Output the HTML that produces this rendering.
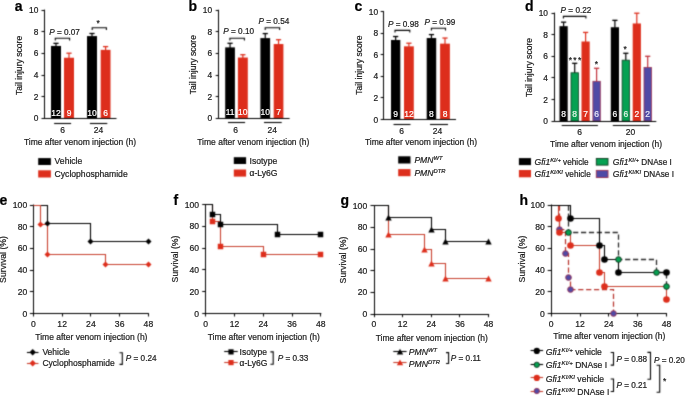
<!DOCTYPE html><html><head><meta charset="utf-8"><style>html,body{margin:0;padding:0;background:#fff;}svg{display:block;}text{font-family:"Liberation Sans",sans-serif;}</style></head><body><svg width="685" height="395" viewBox="0 0 685 395" font-family="Liberation Sans">
<rect width="685" height="395" fill="#fff"/>
<defs><filter id="bl" filterUnits="userSpaceOnUse" x="0" y="0" width="685" height="395" color-interpolation-filters="sRGB"><feConvolveMatrix order="3" kernelMatrix="1 4 1 4 16 4 1 4 1" divisor="36" edgeMode="duplicate"/></filter><filter id="idf" filterUnits="userSpaceOnUse" x="0" y="0" width="685" height="395" color-interpolation-filters="sRGB"><feOffset dx="0" dy="0"/></filter></defs>
<g filter="url(#bl)">
<line x1="56.00" y1="43.35" x2="56.00" y2="46.45" stroke="#000" stroke-width="1.2" />
<line x1="53.40" y1="43.35" x2="58.60" y2="43.35" stroke="#000" stroke-width="1.3" />
<rect x="51.00" y="45.95" width="10.00" height="72.45" fill="#000"/>
<line x1="69.00" y1="53.20" x2="69.00" y2="58.25" stroke="#dd2e1c" stroke-width="1.2" />
<line x1="66.40" y1="53.20" x2="71.60" y2="53.20" stroke="#dd2e1c" stroke-width="1.3" />
<rect x="64.00" y="57.75" width="10.00" height="60.65" fill="#dd2e1c"/>
<line x1="92.00" y1="33.49" x2="92.00" y2="36.59" stroke="#000" stroke-width="1.2" />
<line x1="89.40" y1="33.49" x2="94.60" y2="33.49" stroke="#000" stroke-width="1.3" />
<rect x="87.00" y="36.09" width="10.00" height="82.31" fill="#000"/>
<line x1="105.60" y1="46.60" x2="105.60" y2="50.35" stroke="#dd2e1c" stroke-width="1.2" />
<line x1="103.00" y1="46.60" x2="108.20" y2="46.60" stroke="#dd2e1c" stroke-width="1.3" />
<rect x="100.70" y="49.85" width="9.80" height="68.55" fill="#dd2e1c"/>
<line x1="44.50" y1="9.60" x2="44.50" y2="118.90" stroke="#000" stroke-width="1.0" />
<line x1="44.50" y1="118.50" x2="116.50" y2="118.50" stroke="#000" stroke-width="1.0" />
<line x1="41.50" y1="118.50" x2="44.50" y2="118.50" stroke="#000" stroke-width="1.0" />
<line x1="41.50" y1="96.50" x2="44.50" y2="96.50" stroke="#000" stroke-width="1.0" />
<line x1="41.50" y1="75.50" x2="44.50" y2="75.50" stroke="#000" stroke-width="1.0" />
<line x1="41.50" y1="53.50" x2="44.50" y2="53.50" stroke="#000" stroke-width="1.0" />
<line x1="41.50" y1="31.50" x2="44.50" y2="31.50" stroke="#000" stroke-width="1.0" />
<line x1="41.50" y1="10.50" x2="44.50" y2="10.50" stroke="#000" stroke-width="1.0" />
<path d="M55.30,40.50 V38.30 H69.60 V40.50" fill="none" stroke="#000" stroke-width="1.1"/>
<path d="M92.20,29.90 V27.70 H106.40 V29.90" fill="none" stroke="#000" stroke-width="1.1"/>
<line x1="54.10" y1="123.50" x2="71.10" y2="123.50" stroke="#000" stroke-width="1.1" />
<line x1="89.90" y1="123.50" x2="107.30" y2="123.50" stroke="#000" stroke-width="1.1" />
<rect x="38.20" y="158.10" width="12.70" height="6.90" fill="#000"/>
<rect x="38.20" y="170.30" width="12.70" height="7.20" fill="#dd2e1c"/>
<line x1="230.05" y1="43.28" x2="230.05" y2="47.88" stroke="#000" stroke-width="1.2" />
<line x1="227.45" y1="43.28" x2="232.65" y2="43.28" stroke="#000" stroke-width="1.3" />
<rect x="225.20" y="47.38" width="9.70" height="70.82" fill="#000"/>
<line x1="242.85" y1="54.73" x2="242.85" y2="58.03" stroke="#dd2e1c" stroke-width="1.2" />
<line x1="240.25" y1="54.73" x2="245.45" y2="54.73" stroke="#dd2e1c" stroke-width="1.3" />
<rect x="237.90" y="57.53" width="9.90" height="60.67" fill="#dd2e1c"/>
<line x1="265.25" y1="33.57" x2="265.25" y2="38.60" stroke="#000" stroke-width="1.2" />
<line x1="262.65" y1="33.57" x2="267.85" y2="33.57" stroke="#000" stroke-width="1.3" />
<rect x="260.40" y="38.10" width="9.70" height="80.10" fill="#000"/>
<line x1="278.55" y1="39.72" x2="278.55" y2="44.54" stroke="#dd2e1c" stroke-width="1.2" />
<line x1="275.95" y1="39.72" x2="281.15" y2="39.72" stroke="#dd2e1c" stroke-width="1.3" />
<rect x="273.70" y="44.04" width="9.70" height="74.16" fill="#dd2e1c"/>
<line x1="218.50" y1="9.75" x2="218.50" y2="118.70" stroke="#000" stroke-width="1.0" />
<line x1="218.70" y1="118.50" x2="289.60" y2="118.50" stroke="#000" stroke-width="1.0" />
<line x1="215.70" y1="118.50" x2="218.70" y2="118.50" stroke="#000" stroke-width="1.0" />
<line x1="215.70" y1="96.50" x2="218.70" y2="96.50" stroke="#000" stroke-width="1.0" />
<line x1="215.70" y1="75.50" x2="218.70" y2="75.50" stroke="#000" stroke-width="1.0" />
<line x1="215.70" y1="53.50" x2="218.70" y2="53.50" stroke="#000" stroke-width="1.0" />
<line x1="215.70" y1="31.50" x2="218.70" y2="31.50" stroke="#000" stroke-width="1.0" />
<line x1="215.70" y1="10.50" x2="218.70" y2="10.50" stroke="#000" stroke-width="1.0" />
<path d="M229.90,40.50 V38.30 H244.40 V40.50" fill="none" stroke="#000" stroke-width="1.1"/>
<path d="M265.20,30.00 V27.80 H279.60 V30.00" fill="none" stroke="#000" stroke-width="1.1"/>
<line x1="228.00" y1="122.50" x2="245.10" y2="122.50" stroke="#000" stroke-width="1.1" />
<line x1="264.00" y1="122.50" x2="281.70" y2="122.50" stroke="#000" stroke-width="1.1" />
<rect x="233.80" y="157.20" width="12.30" height="6.80" fill="#000"/>
<rect x="233.80" y="169.50" width="12.30" height="7.10" fill="#dd2e1c"/>
<line x1="395.65" y1="36.52" x2="395.65" y2="40.48" stroke="#000" stroke-width="1.2" />
<line x1="393.05" y1="36.52" x2="398.25" y2="36.52" stroke="#000" stroke-width="1.3" />
<rect x="391.00" y="39.98" width="9.30" height="79.52" fill="#000"/>
<line x1="408.90" y1="43.21" x2="408.90" y2="46.84" stroke="#dd2e1c" stroke-width="1.2" />
<line x1="406.30" y1="43.21" x2="411.50" y2="43.21" stroke="#dd2e1c" stroke-width="1.3" />
<rect x="404.00" y="46.34" width="9.80" height="73.16" fill="#dd2e1c"/>
<line x1="431.45" y1="34.58" x2="431.45" y2="38.54" stroke="#000" stroke-width="1.2" />
<line x1="428.85" y1="34.58" x2="434.05" y2="34.58" stroke="#000" stroke-width="1.3" />
<rect x="426.70" y="38.04" width="9.50" height="81.46" fill="#000"/>
<line x1="445.00" y1="38.04" x2="445.00" y2="44.15" stroke="#dd2e1c" stroke-width="1.2" />
<line x1="442.40" y1="38.04" x2="447.60" y2="38.04" stroke="#dd2e1c" stroke-width="1.3" />
<rect x="440.10" y="43.65" width="9.80" height="75.85" fill="#dd2e1c"/>
<line x1="383.50" y1="11.10" x2="383.50" y2="120.00" stroke="#000" stroke-width="1.0" />
<line x1="383.70" y1="119.50" x2="456.00" y2="119.50" stroke="#000" stroke-width="1.0" />
<line x1="380.70" y1="119.50" x2="383.70" y2="119.50" stroke="#000" stroke-width="1.0" />
<line x1="380.70" y1="97.50" x2="383.70" y2="97.50" stroke="#000" stroke-width="1.0" />
<line x1="380.70" y1="76.50" x2="383.70" y2="76.50" stroke="#000" stroke-width="1.0" />
<line x1="380.70" y1="54.50" x2="383.70" y2="54.50" stroke="#000" stroke-width="1.0" />
<line x1="380.70" y1="33.50" x2="383.70" y2="33.50" stroke="#000" stroke-width="1.0" />
<line x1="380.70" y1="11.50" x2="383.70" y2="11.50" stroke="#000" stroke-width="1.0" />
<path d="M395.00,32.60 V30.40 H409.80 V32.60" fill="none" stroke="#000" stroke-width="1.1"/>
<path d="M431.40,30.50 V28.30 H445.50 V30.50" fill="none" stroke="#000" stroke-width="1.1"/>
<line x1="393.50" y1="124.50" x2="410.50" y2="124.50" stroke="#000" stroke-width="1.1" />
<line x1="430.00" y1="124.50" x2="448.00" y2="124.50" stroke="#000" stroke-width="1.1" />
<rect x="398.20" y="156.30" width="12.30" height="7.20" fill="#000"/>
<rect x="398.20" y="169.10" width="12.30" height="7.10" fill="#dd2e1c"/>
<line x1="563.60" y1="22.17" x2="563.60" y2="26.67" stroke="#000" stroke-width="1.2" />
<line x1="561.00" y1="22.17" x2="566.20" y2="22.17" stroke="#000" stroke-width="1.3" />
<rect x="559.50" y="26.17" width="8.20" height="94.93" fill="#000"/>
<line x1="574.70" y1="63.32" x2="574.70" y2="72.89" stroke="#000" stroke-width="1.2" />
<line x1="572.10" y1="63.32" x2="577.30" y2="63.32" stroke="#000" stroke-width="1.3" />
<rect x="571.00" y="72.79" width="7.40" height="48.31" fill="#05a152" stroke="#0a3a1c" stroke-width="0.8"/>
<line x1="585.60" y1="32.43" x2="585.60" y2="42.00" stroke="#dd2e1c" stroke-width="1.2" />
<line x1="583.00" y1="32.43" x2="588.20" y2="32.43" stroke="#dd2e1c" stroke-width="1.3" />
<rect x="581.50" y="41.50" width="8.20" height="79.60" fill="#dd2e1c"/>
<line x1="596.60" y1="68.29" x2="596.60" y2="81.42" stroke="#c0303a" stroke-width="1.2" />
<line x1="594.00" y1="68.29" x2="599.20" y2="68.29" stroke="#c0303a" stroke-width="1.3" />
<rect x="592.90" y="81.32" width="7.40" height="39.78" fill="#4f4aa6" stroke="#9a2f50" stroke-width="0.8"/>
<line x1="614.90" y1="20.34" x2="614.90" y2="27.75" stroke="#000" stroke-width="1.2" />
<line x1="612.30" y1="20.34" x2="617.50" y2="20.34" stroke="#000" stroke-width="1.3" />
<rect x="610.80" y="27.25" width="8.20" height="93.85" fill="#000"/>
<line x1="625.80" y1="53.28" x2="625.80" y2="60.26" stroke="#000" stroke-width="1.2" />
<line x1="623.20" y1="53.28" x2="628.40" y2="53.28" stroke="#000" stroke-width="1.3" />
<rect x="622.10" y="60.16" width="7.40" height="60.94" fill="#05a152" stroke="#0a3a1c" stroke-width="0.8"/>
<line x1="636.80" y1="13.21" x2="636.80" y2="23.97" stroke="#dd2e1c" stroke-width="1.2" />
<line x1="634.20" y1="13.21" x2="639.40" y2="13.21" stroke="#dd2e1c" stroke-width="1.3" />
<rect x="632.70" y="23.47" width="8.20" height="97.63" fill="#dd2e1c"/>
<line x1="647.70" y1="56.30" x2="647.70" y2="67.60" stroke="#c0303a" stroke-width="1.2" />
<line x1="645.10" y1="56.30" x2="650.30" y2="56.30" stroke="#c0303a" stroke-width="1.3" />
<rect x="644.00" y="67.50" width="7.40" height="53.60" fill="#4f4aa6" stroke="#9a2f50" stroke-width="0.8"/>
<line x1="554.50" y1="12.60" x2="554.50" y2="121.60" stroke="#000" stroke-width="1.0" />
<line x1="554.50" y1="121.50" x2="656.30" y2="121.50" stroke="#000" stroke-width="1.0" />
<line x1="551.50" y1="121.50" x2="554.50" y2="121.50" stroke="#000" stroke-width="1.0" />
<line x1="551.50" y1="99.50" x2="554.50" y2="99.50" stroke="#000" stroke-width="1.0" />
<line x1="551.50" y1="77.50" x2="554.50" y2="77.50" stroke="#000" stroke-width="1.0" />
<line x1="551.50" y1="56.50" x2="554.50" y2="56.50" stroke="#000" stroke-width="1.0" />
<line x1="551.50" y1="34.50" x2="554.50" y2="34.50" stroke="#000" stroke-width="1.0" />
<line x1="551.50" y1="13.50" x2="554.50" y2="13.50" stroke="#000" stroke-width="1.0" />
<path d="M563.40,18.60 V16.40 H585.90 V18.60" fill="none" stroke="#000" stroke-width="1.1"/>
<line x1="561.70" y1="125.50" x2="597.90" y2="125.50" stroke="#000" stroke-width="1.1" />
<line x1="612.80" y1="125.50" x2="649.60" y2="125.50" stroke="#000" stroke-width="1.1" />
<rect x="518.90" y="158.10" width="12.10" height="7.00" fill="#000"/>
<rect x="518.90" y="170.00" width="12.10" height="7.30" fill="#dd2e1c"/>
<rect x="596.30" y="158.50" width="11.70" height="6.60" fill="#05a152" stroke="#0a3a1c" stroke-width="0.9"/>
<rect x="596.30" y="170.40" width="11.70" height="7.10" fill="#4f4aa6" stroke="#9a2f50" stroke-width="0.9"/>
<line x1="33.50" y1="204.50" x2="33.50" y2="314.00" stroke="#000" stroke-width="1.0" />
<line x1="32.90" y1="313.50" x2="148.90" y2="313.50" stroke="#000" stroke-width="1.0" />
<line x1="29.90" y1="313.50" x2="33.40" y2="313.50" stroke="#000" stroke-width="1.0" />
<line x1="29.90" y1="291.50" x2="33.40" y2="291.50" stroke="#000" stroke-width="1.0" />
<line x1="29.90" y1="270.50" x2="33.40" y2="270.50" stroke="#000" stroke-width="1.0" />
<line x1="29.90" y1="248.50" x2="33.40" y2="248.50" stroke="#000" stroke-width="1.0" />
<line x1="29.90" y1="226.50" x2="33.40" y2="226.50" stroke="#000" stroke-width="1.0" />
<line x1="29.90" y1="205.50" x2="33.40" y2="205.50" stroke="#000" stroke-width="1.0" />
<line x1="33.50" y1="313.50" x2="33.50" y2="316.50" stroke="#000" stroke-width="1.0" />
<line x1="62.50" y1="313.50" x2="62.50" y2="316.50" stroke="#000" stroke-width="1.0" />
<line x1="90.50" y1="313.50" x2="90.50" y2="316.50" stroke="#000" stroke-width="1.0" />
<line x1="119.50" y1="313.50" x2="119.50" y2="316.50" stroke="#000" stroke-width="1.0" />
<line x1="148.50" y1="313.50" x2="148.50" y2="316.50" stroke="#000" stroke-width="1.0" />
<path d="M33.50,205.50 H47.50 V223.50 H90.50 V241.50 H148.50 V241.50" fill="none" stroke="#000" stroke-width="1.1"/>
<path d="M33.50,205.50 H40.50 V224.50 H47.50 V254.50 H105.50 V264.50 H148.50 V264.50" fill="none" stroke="#c8402f" stroke-width="1.1"/>
<path d="M47.50,220.50 L50.50,223.50 L47.50,226.50 L44.50,223.50 Z" fill="#000"/>
<path d="M90.50,238.50 L93.50,241.50 L90.50,244.50 L87.50,241.50 Z" fill="#000"/>
<path d="M148.50,238.50 L151.50,241.50 L148.50,244.50 L145.50,241.50 Z" fill="#000"/>
<path d="M40.50,221.50 L43.50,224.50 L40.50,227.50 L37.50,224.50 Z" fill="#dd2e1c"/>
<path d="M47.50,251.50 L50.50,254.50 L47.50,257.50 L44.50,254.50 Z" fill="#dd2e1c"/>
<path d="M105.50,261.50 L108.50,264.50 L105.50,267.50 L102.50,264.50 Z" fill="#dd2e1c"/>
<path d="M148.50,261.50 L151.50,264.50 L148.50,267.50 L145.50,264.50 Z" fill="#dd2e1c"/>
<line x1="26.90" y1="352.50" x2="38.50" y2="352.50" stroke="#000" stroke-width="1.1" />
<path d="M32.70,349.00 L35.90,352.20 L32.70,355.40 L29.50,352.20 Z" fill="#000"/>
<line x1="26.90" y1="363.50" x2="38.50" y2="363.50" stroke="#c8402f" stroke-width="1.1" />
<path d="M32.70,360.00 L35.90,363.20 L32.70,366.40 L29.50,363.20 Z" fill="#dd2e1c"/>
<path d="M119.5,352.7 H122.3 V364.4 H119.5" fill="none" stroke="#000" stroke-width="1.1"/>
<line x1="205.50" y1="204.10" x2="205.50" y2="314.00" stroke="#000" stroke-width="1.0" />
<line x1="205.20" y1="313.50" x2="321.30" y2="313.50" stroke="#000" stroke-width="1.0" />
<line x1="202.20" y1="313.50" x2="205.70" y2="313.50" stroke="#000" stroke-width="1.0" />
<line x1="202.20" y1="291.50" x2="205.70" y2="291.50" stroke="#000" stroke-width="1.0" />
<line x1="202.20" y1="269.50" x2="205.70" y2="269.50" stroke="#000" stroke-width="1.0" />
<line x1="202.20" y1="248.50" x2="205.70" y2="248.50" stroke="#000" stroke-width="1.0" />
<line x1="202.20" y1="226.50" x2="205.70" y2="226.50" stroke="#000" stroke-width="1.0" />
<line x1="202.20" y1="204.50" x2="205.70" y2="204.50" stroke="#000" stroke-width="1.0" />
<line x1="205.50" y1="313.50" x2="205.50" y2="316.50" stroke="#000" stroke-width="1.0" />
<line x1="234.50" y1="313.50" x2="234.50" y2="316.50" stroke="#000" stroke-width="1.0" />
<line x1="263.50" y1="313.50" x2="263.50" y2="316.50" stroke="#000" stroke-width="1.0" />
<line x1="292.50" y1="313.50" x2="292.50" y2="316.50" stroke="#000" stroke-width="1.0" />
<line x1="320.50" y1="313.50" x2="320.50" y2="316.50" stroke="#000" stroke-width="1.0" />
<path d="M212.50,204.50 H212.50 V221.50 H220.50 V246.50 H263.50 V254.50 H320.50 V254.50" fill="none" stroke="#c8402f" stroke-width="1.1"/>
<path d="M205.50,204.50 H212.50 V214.50 H220.50 V224.50 H277.50 V234.50 H320.50 V234.50" fill="none" stroke="#000" stroke-width="1.1"/>
<rect x="209.75" y="218.75" width="5.50" height="5.50" fill="#dd2e1c"/>
<rect x="217.75" y="243.75" width="5.50" height="5.50" fill="#dd2e1c"/>
<rect x="260.75" y="251.75" width="5.50" height="5.50" fill="#dd2e1c"/>
<rect x="317.75" y="251.75" width="5.50" height="5.50" fill="#dd2e1c"/>
<rect x="209.75" y="211.75" width="5.50" height="5.50" fill="#000"/>
<rect x="217.75" y="221.75" width="5.50" height="5.50" fill="#000"/>
<rect x="274.75" y="231.75" width="5.50" height="5.50" fill="#000"/>
<rect x="317.75" y="231.75" width="5.50" height="5.50" fill="#000"/>
<line x1="224.20" y1="351.50" x2="237.70" y2="351.50" stroke="#000" stroke-width="1.1" />
<rect x="228.40" y="349.30" width="5.20" height="5.20" fill="#000"/>
<line x1="224.20" y1="362.50" x2="237.70" y2="362.50" stroke="#c8402f" stroke-width="1.1" />
<rect x="228.40" y="360.00" width="5.20" height="5.20" fill="#dd2e1c"/>
<path d="M270.4,351.9 H273.2 V364.2 H270.4" fill="none" stroke="#000" stroke-width="1.1"/>
<line x1="374.50" y1="205.10" x2="374.50" y2="314.70" stroke="#000" stroke-width="1.0" />
<line x1="373.50" y1="314.50" x2="489.10" y2="314.50" stroke="#000" stroke-width="1.0" />
<line x1="370.50" y1="314.50" x2="374.00" y2="314.50" stroke="#000" stroke-width="1.0" />
<line x1="370.50" y1="292.50" x2="374.00" y2="292.50" stroke="#000" stroke-width="1.0" />
<line x1="370.50" y1="270.50" x2="374.00" y2="270.50" stroke="#000" stroke-width="1.0" />
<line x1="370.50" y1="249.50" x2="374.00" y2="249.50" stroke="#000" stroke-width="1.0" />
<line x1="370.50" y1="227.50" x2="374.00" y2="227.50" stroke="#000" stroke-width="1.0" />
<line x1="370.50" y1="205.50" x2="374.00" y2="205.50" stroke="#000" stroke-width="1.0" />
<line x1="374.50" y1="314.20" x2="374.50" y2="317.20" stroke="#000" stroke-width="1.0" />
<line x1="402.50" y1="314.20" x2="402.50" y2="317.20" stroke="#000" stroke-width="1.0" />
<line x1="431.50" y1="314.20" x2="431.50" y2="317.20" stroke="#000" stroke-width="1.0" />
<line x1="459.50" y1="314.20" x2="459.50" y2="317.20" stroke="#000" stroke-width="1.0" />
<line x1="488.50" y1="314.20" x2="488.50" y2="317.20" stroke="#000" stroke-width="1.0" />
<path d="M388.50,205.50 H388.50 V234.50 H424.50 V249.50 H431.50 V263.50 H445.50 V278.50 H488.50 V278.50" fill="none" stroke="#c8402f" stroke-width="1.1"/>
<path d="M374.50,205.50 H388.50 V217.50 H431.50 V229.50 H445.50 V241.50 H488.50 V241.50" fill="none" stroke="#000" stroke-width="1.1"/>
<path d="M388.50,231.62 L391.70,237.38 L385.30,237.38 Z" fill="#dd2e1c"/>
<path d="M424.50,246.62 L427.70,252.38 L421.30,252.38 Z" fill="#dd2e1c"/>
<path d="M431.50,260.62 L434.70,266.38 L428.30,266.38 Z" fill="#dd2e1c"/>
<path d="M445.50,275.62 L448.70,281.38 L442.30,281.38 Z" fill="#dd2e1c"/>
<path d="M488.50,275.62 L491.70,281.38 L485.30,281.38 Z" fill="#dd2e1c"/>
<path d="M388.50,214.62 L391.70,220.38 L385.30,220.38 Z" fill="#000"/>
<path d="M431.50,226.62 L434.70,232.38 L428.30,232.38 Z" fill="#000"/>
<path d="M445.50,238.62 L448.70,244.38 L442.30,244.38 Z" fill="#000"/>
<path d="M488.50,238.62 L491.70,244.38 L485.30,244.38 Z" fill="#000"/>
<line x1="393.30" y1="351.50" x2="406.60" y2="351.50" stroke="#000" stroke-width="1.1" />
<path d="M400.00,348.72 L403.20,354.48 L396.80,354.48 Z" fill="#000"/>
<line x1="393.30" y1="362.50" x2="406.60" y2="362.50" stroke="#c8402f" stroke-width="1.1" />
<path d="M400.00,359.42 L403.20,365.18 L396.80,365.18 Z" fill="#dd2e1c"/>
<path d="M446.0,352.6 H448.6 V363.5 H446.0" fill="none" stroke="#000" stroke-width="1.1"/>
<line x1="551.50" y1="204.50" x2="551.50" y2="314.00" stroke="#000" stroke-width="1.0" />
<line x1="550.70" y1="313.50" x2="667.00" y2="313.50" stroke="#000" stroke-width="1.0" />
<line x1="547.70" y1="313.50" x2="551.20" y2="313.50" stroke="#000" stroke-width="1.0" />
<line x1="547.70" y1="291.50" x2="551.20" y2="291.50" stroke="#000" stroke-width="1.0" />
<line x1="547.70" y1="270.50" x2="551.20" y2="270.50" stroke="#000" stroke-width="1.0" />
<line x1="547.70" y1="248.50" x2="551.20" y2="248.50" stroke="#000" stroke-width="1.0" />
<line x1="547.70" y1="226.50" x2="551.20" y2="226.50" stroke="#000" stroke-width="1.0" />
<line x1="547.70" y1="205.50" x2="551.20" y2="205.50" stroke="#000" stroke-width="1.0" />
<line x1="551.50" y1="313.50" x2="551.50" y2="316.50" stroke="#000" stroke-width="1.0" />
<line x1="580.50" y1="313.50" x2="580.50" y2="316.50" stroke="#000" stroke-width="1.0" />
<line x1="608.50" y1="313.50" x2="608.50" y2="316.50" stroke="#000" stroke-width="1.0" />
<line x1="637.50" y1="313.50" x2="637.50" y2="316.50" stroke="#000" stroke-width="1.0" />
<line x1="666.50" y1="313.50" x2="666.50" y2="316.50" stroke="#000" stroke-width="1.0" />
<path d="M559.50,205.50 H559.50 V229.50 H565.50 V253.50 H568.50 V277.50 H570.50 V289.50 H613.50 V313.50" fill="none" stroke="#b8342e" stroke-width="1.25" stroke-dasharray="5.2,2.7"/>
<path d="M558.50,205.50 H558.50 V218.50 H559.50 V232.50 H570.50 V245.50 H599.50 V272.50 H604.50 V286.50 H666.50 V299.50" fill="none" stroke="#c8402f" stroke-width="1.1"/>
<path d="M568.50,205.50 H568.50 V232.50 H618.50 V259.50 H656.50 V272.50 H666.50 V286.50" fill="none" stroke="#2a2a2a" stroke-width="1.3" stroke-dasharray="5.2,2.7"/>
<path d="M551.50,205.50 H570.50 V218.50 H599.50 V245.50 H604.50 V259.50 H618.50 V272.50 H666.50 V272.50" fill="none" stroke="#000" stroke-width="1.1"/>
<circle cx="559.50" cy="229.50" r="2.85" fill="#4f4aa6" stroke="#9a3050" stroke-width="0.9"/>
<circle cx="565.50" cy="253.50" r="2.85" fill="#4f4aa6" stroke="#9a3050" stroke-width="0.9"/>
<circle cx="568.50" cy="277.50" r="2.85" fill="#4f4aa6" stroke="#9a3050" stroke-width="0.9"/>
<circle cx="570.50" cy="289.50" r="2.85" fill="#4f4aa6" stroke="#9a3050" stroke-width="0.9"/>
<circle cx="613.50" cy="313.50" r="2.85" fill="#4f4aa6" stroke="#9a3050" stroke-width="0.9"/>
<circle cx="558.50" cy="218.50" r="3.30" fill="#dd2e1c"/>
<circle cx="559.50" cy="232.50" r="3.30" fill="#dd2e1c"/>
<circle cx="570.50" cy="245.50" r="3.30" fill="#dd2e1c"/>
<circle cx="599.50" cy="272.50" r="3.30" fill="#dd2e1c"/>
<circle cx="604.50" cy="286.50" r="3.30" fill="#dd2e1c"/>
<circle cx="666.50" cy="299.50" r="3.30" fill="#dd2e1c"/>
<circle cx="568.50" cy="232.50" r="2.85" fill="#05a152" stroke="#0a2a14" stroke-width="0.9"/>
<circle cx="618.50" cy="259.50" r="2.85" fill="#05a152" stroke="#0a2a14" stroke-width="0.9"/>
<circle cx="656.50" cy="272.50" r="2.85" fill="#05a152" stroke="#0a2a14" stroke-width="0.9"/>
<circle cx="666.50" cy="286.50" r="2.85" fill="#05a152" stroke="#0a2a14" stroke-width="0.9"/>
<circle cx="570.50" cy="218.50" r="3.30" fill="#000"/>
<circle cx="599.50" cy="245.50" r="3.30" fill="#000"/>
<circle cx="604.50" cy="259.50" r="3.30" fill="#000"/>
<circle cx="618.50" cy="272.50" r="3.30" fill="#000"/>
<circle cx="666.50" cy="272.50" r="3.30" fill="#000"/>
<line x1="530.60" y1="350.50" x2="543.10" y2="350.50" stroke="#000" stroke-width="1.1" />
<circle cx="536.80" cy="350.90" r="3.10" fill="#000"/>
<line x1="530.60" y1="364.50" x2="543.10" y2="364.50" stroke="#000" stroke-width="1.1" />
<circle cx="536.80" cy="364.80" r="2.65" fill="#05a152" stroke="#0a2a14" stroke-width="0.9"/>
<line x1="530.60" y1="377.50" x2="543.10" y2="377.50" stroke="#c8402f" stroke-width="1.1" />
<circle cx="536.80" cy="377.90" r="3.10" fill="#dd2e1c"/>
<line x1="530.60" y1="391.50" x2="543.10" y2="391.50" stroke="#c8402f" stroke-width="1.1" />
<circle cx="536.80" cy="391.00" r="2.65" fill="#4f4aa6" stroke="#9a3050" stroke-width="0.9"/>
<path d="M610.7,352.5 H613.5 V365.1 H610.7" fill="none" stroke="#000" stroke-width="1.1"/>
<path d="M610.7,379.0 H613.5 V391.5 H610.7" fill="none" stroke="#000" stroke-width="1.1"/>
<path d="M647.4,352.4 H650.5 V379.2 H647.4" fill="none" stroke="#000" stroke-width="1.1"/>
<path d="M656.6,365.3 H659.7 V392.3 H656.6" fill="none" stroke="#000" stroke-width="1.1"/>
</g>
<g filter="url(#idf)">
<text x="14.80" y="10.50" font-size="14" text-anchor="start" fill="#000" font-weight="bold" font-style="normal"  stroke="#000" stroke-width="0.2">a</text>
<text x="0" y="0" font-size="8.6" text-anchor="middle" fill="#1a1a1a" transform="translate(21.90,65.40) rotate(-90)" stroke="#1a1a1a" stroke-width="0.2">Tail injury score</text>
<text x="56.00" y="115.80" font-size="8.5" text-anchor="middle" fill="#fff" font-weight="normal" font-style="normal"  stroke="#fff" stroke-width="0.2">12</text>
<text x="69.00" y="115.80" font-size="8.5" text-anchor="middle" fill="#fff" font-weight="normal" font-style="normal"  stroke="#fff" stroke-width="0.2">9</text>
<text x="92.00" y="115.80" font-size="8.5" text-anchor="middle" fill="#fff" font-weight="normal" font-style="normal"  stroke="#fff" stroke-width="0.2">10</text>
<text x="105.60" y="115.80" font-size="8.5" text-anchor="middle" fill="#fff" font-weight="normal" font-style="normal"  stroke="#fff" stroke-width="0.2">6</text>
<text x="38.40" y="121.40" font-size="8.4" text-anchor="end" fill="#1a1a1a" font-weight="normal" font-style="normal"  stroke="#1a1a1a" stroke-width="0.2">0</text>
<text x="38.40" y="99.74" font-size="8.4" text-anchor="end" fill="#1a1a1a" font-weight="normal" font-style="normal"  stroke="#1a1a1a" stroke-width="0.2">2</text>
<text x="38.40" y="78.08" font-size="8.4" text-anchor="end" fill="#1a1a1a" font-weight="normal" font-style="normal"  stroke="#1a1a1a" stroke-width="0.2">4</text>
<text x="38.40" y="56.42" font-size="8.4" text-anchor="end" fill="#1a1a1a" font-weight="normal" font-style="normal"  stroke="#1a1a1a" stroke-width="0.2">6</text>
<text x="38.40" y="34.76" font-size="8.4" text-anchor="end" fill="#1a1a1a" font-weight="normal" font-style="normal"  stroke="#1a1a1a" stroke-width="0.2">8</text>
<text x="38.40" y="13.10" font-size="8.4" text-anchor="end" fill="#1a1a1a" font-weight="normal" font-style="normal"  stroke="#1a1a1a" stroke-width="0.2">10</text>
<text x="49.20" y="34.50" font-size="8.2" fill="#1a1a1a" stroke="#1a1a1a" stroke-width="0.2"><tspan font-style="italic">P</tspan> = 0.07</text>
<text x="98.20" y="26.40" font-size="8.5" text-anchor="middle" fill="#1a1a1a" font-weight="normal" font-style="normal"  stroke="#1a1a1a" stroke-width="0.2">*</text>
<text x="62.50" y="132.70" font-size="8.5" text-anchor="middle" fill="#1a1a1a" font-weight="normal" font-style="normal"  stroke="#1a1a1a" stroke-width="0.2">6</text>
<text x="98.50" y="132.70" font-size="8.5" text-anchor="middle" fill="#1a1a1a" font-weight="normal" font-style="normal"  stroke="#1a1a1a" stroke-width="0.2">24</text>
<text x="80.00" y="144.60" font-size="8.5" text-anchor="middle" fill="#1a1a1a" font-weight="normal" font-style="normal"  stroke="#1a1a1a" stroke-width="0.2">Time after venom injection (h)</text>
<text x="54.60" y="164.40" font-size="8.6" text-anchor="start" fill="#1a1a1a" font-weight="normal" font-style="normal"  stroke="#1a1a1a" stroke-width="0.2">Vehicle</text>
<text x="54.60" y="176.80" font-size="8.6" text-anchor="start" fill="#1a1a1a" font-weight="normal" font-style="normal"  stroke="#1a1a1a" stroke-width="0.2">Cyclophosphamide</text>
<text x="188.40" y="10.60" font-size="14" text-anchor="start" fill="#000" font-weight="bold" font-style="normal"  stroke="#000" stroke-width="0.2">b</text>
<text x="0" y="0" font-size="8.6" text-anchor="middle" fill="#1a1a1a" transform="translate(196.20,64.60) rotate(-90)" stroke="#1a1a1a" stroke-width="0.2">Tail injury score</text>
<text x="230.05" y="115.10" font-size="8.5" text-anchor="middle" fill="#fff" font-weight="normal" font-style="normal"  stroke="#fff" stroke-width="0.2">11</text>
<text x="242.85" y="115.10" font-size="8.5" text-anchor="middle" fill="#fff" font-weight="normal" font-style="normal"  stroke="#fff" stroke-width="0.2">10</text>
<text x="265.25" y="115.10" font-size="8.5" text-anchor="middle" fill="#fff" font-weight="normal" font-style="normal"  stroke="#fff" stroke-width="0.2">10</text>
<text x="278.55" y="115.10" font-size="8.5" text-anchor="middle" fill="#fff" font-weight="normal" font-style="normal"  stroke="#fff" stroke-width="0.2">7</text>
<text x="212.20" y="121.20" font-size="8.4" text-anchor="end" fill="#1a1a1a" font-weight="normal" font-style="normal"  stroke="#1a1a1a" stroke-width="0.2">0</text>
<text x="212.20" y="99.61" font-size="8.4" text-anchor="end" fill="#1a1a1a" font-weight="normal" font-style="normal"  stroke="#1a1a1a" stroke-width="0.2">2</text>
<text x="212.20" y="78.02" font-size="8.4" text-anchor="end" fill="#1a1a1a" font-weight="normal" font-style="normal"  stroke="#1a1a1a" stroke-width="0.2">4</text>
<text x="212.20" y="56.43" font-size="8.4" text-anchor="end" fill="#1a1a1a" font-weight="normal" font-style="normal"  stroke="#1a1a1a" stroke-width="0.2">6</text>
<text x="212.20" y="34.84" font-size="8.4" text-anchor="end" fill="#1a1a1a" font-weight="normal" font-style="normal"  stroke="#1a1a1a" stroke-width="0.2">8</text>
<text x="212.20" y="13.25" font-size="8.4" text-anchor="end" fill="#1a1a1a" font-weight="normal" font-style="normal"  stroke="#1a1a1a" stroke-width="0.2">10</text>
<text x="223.30" y="34.20" font-size="8.2" fill="#1a1a1a" stroke="#1a1a1a" stroke-width="0.2"><tspan font-style="italic">P</tspan> = 0.10</text>
<text x="258.50" y="23.90" font-size="8.2" fill="#1a1a1a" stroke="#1a1a1a" stroke-width="0.2"><tspan font-style="italic">P</tspan> = 0.54</text>
<text x="235.70" y="132.70" font-size="8.5" text-anchor="middle" fill="#1a1a1a" font-weight="normal" font-style="normal"  stroke="#1a1a1a" stroke-width="0.2">6</text>
<text x="272.20" y="132.70" font-size="8.5" text-anchor="middle" fill="#1a1a1a" font-weight="normal" font-style="normal"  stroke="#1a1a1a" stroke-width="0.2">24</text>
<text x="253.30" y="144.60" font-size="8.5" text-anchor="middle" fill="#1a1a1a" font-weight="normal" font-style="normal"  stroke="#1a1a1a" stroke-width="0.2">Time after venom injection (h)</text>
<text x="249.50" y="163.50" font-size="8.6" text-anchor="start" fill="#1a1a1a" font-weight="normal" font-style="normal"  stroke="#1a1a1a" stroke-width="0.2">Isotype</text>
<text x="249.50" y="175.90" font-size="8.6" text-anchor="start" fill="#1a1a1a" font-weight="normal" font-style="normal"  stroke="#1a1a1a" stroke-width="0.2">&#945;-Ly6G</text>
<text x="354.50" y="10.80" font-size="14" text-anchor="start" fill="#000" font-weight="bold" font-style="normal"  stroke="#000" stroke-width="0.2">c</text>
<text x="0" y="0" font-size="8.6" text-anchor="middle" fill="#1a1a1a" transform="translate(361.80,65.10) rotate(-90)" stroke="#1a1a1a" stroke-width="0.2">Tail injury score</text>
<text x="395.65" y="116.90" font-size="8.5" text-anchor="middle" fill="#fff" font-weight="normal" font-style="normal"  stroke="#fff" stroke-width="0.2">9</text>
<text x="408.90" y="116.90" font-size="8.5" text-anchor="middle" fill="#fff" font-weight="normal" font-style="normal"  stroke="#fff" stroke-width="0.2">12</text>
<text x="431.45" y="116.90" font-size="8.5" text-anchor="middle" fill="#fff" font-weight="normal" font-style="normal"  stroke="#fff" stroke-width="0.2">8</text>
<text x="445.00" y="116.90" font-size="8.5" text-anchor="middle" fill="#fff" font-weight="normal" font-style="normal"  stroke="#fff" stroke-width="0.2">8</text>
<text x="378.20" y="122.50" font-size="8.4" text-anchor="end" fill="#1a1a1a" font-weight="normal" font-style="normal"  stroke="#1a1a1a" stroke-width="0.2">0</text>
<text x="378.20" y="100.92" font-size="8.4" text-anchor="end" fill="#1a1a1a" font-weight="normal" font-style="normal"  stroke="#1a1a1a" stroke-width="0.2">2</text>
<text x="378.20" y="79.34" font-size="8.4" text-anchor="end" fill="#1a1a1a" font-weight="normal" font-style="normal"  stroke="#1a1a1a" stroke-width="0.2">4</text>
<text x="378.20" y="57.76" font-size="8.4" text-anchor="end" fill="#1a1a1a" font-weight="normal" font-style="normal"  stroke="#1a1a1a" stroke-width="0.2">6</text>
<text x="378.20" y="36.18" font-size="8.4" text-anchor="end" fill="#1a1a1a" font-weight="normal" font-style="normal"  stroke="#1a1a1a" stroke-width="0.2">8</text>
<text x="378.20" y="14.60" font-size="8.4" text-anchor="end" fill="#1a1a1a" font-weight="normal" font-style="normal"  stroke="#1a1a1a" stroke-width="0.2">10</text>
<text x="388.00" y="26.60" font-size="8.2" fill="#1a1a1a" stroke="#1a1a1a" stroke-width="0.2"><tspan font-style="italic">P</tspan> = 0.98</text>
<text x="424.50" y="25.00" font-size="8.2" fill="#1a1a1a" stroke="#1a1a1a" stroke-width="0.2"><tspan font-style="italic">P</tspan> = 0.99</text>
<text x="401.50" y="133.80" font-size="8.5" text-anchor="middle" fill="#1a1a1a" font-weight="normal" font-style="normal"  stroke="#1a1a1a" stroke-width="0.2">6</text>
<text x="437.60" y="133.80" font-size="8.5" text-anchor="middle" fill="#1a1a1a" font-weight="normal" font-style="normal"  stroke="#1a1a1a" stroke-width="0.2">24</text>
<text x="421.00" y="144.60" font-size="8.5" text-anchor="middle" fill="#1a1a1a" font-weight="normal" font-style="normal"  stroke="#1a1a1a" stroke-width="0.2">Time after venom injection (h)</text>
<text x="414.4" y="163.0" font-size="8.6" fill="#1a1a1a" font-style="italic" stroke="#1a1a1a" stroke-width="0.2">PMN<tspan font-size="5.8" dy="-2.8">WT</tspan></text>
<text x="414.4" y="176.2" font-size="8.6" fill="#1a1a1a" font-style="italic" stroke="#1a1a1a" stroke-width="0.2">PMN<tspan font-size="5.8" dy="-2.8">DTR</tspan></text>
<text x="524.90" y="10.60" font-size="14" text-anchor="start" fill="#000" font-weight="bold" font-style="normal"  stroke="#000" stroke-width="0.2">d</text>
<text x="0" y="0" font-size="8.6" text-anchor="middle" fill="#1a1a1a" transform="translate(532.10,67.50) rotate(-90)" stroke="#1a1a1a" stroke-width="0.2">Tail injury score</text>
<text x="563.60" y="116.60" font-size="8.5" text-anchor="middle" fill="#fff" font-weight="normal" font-style="normal"  stroke="#fff" stroke-width="0.2">8</text>
<text x="574.70" y="116.60" font-size="8.5" text-anchor="middle" fill="#e8f5e8" font-weight="normal" font-style="normal"  stroke="#e8f5e8" stroke-width="0.2">8</text>
<text x="585.60" y="116.60" font-size="8.5" text-anchor="middle" fill="#fff" font-weight="normal" font-style="normal"  stroke="#fff" stroke-width="0.2">7</text>
<text x="596.60" y="116.60" font-size="8.5" text-anchor="middle" fill="#e8e8f8" font-weight="normal" font-style="normal"  stroke="#e8e8f8" stroke-width="0.2">6</text>
<text x="614.90" y="116.60" font-size="8.5" text-anchor="middle" fill="#fff" font-weight="normal" font-style="normal"  stroke="#fff" stroke-width="0.2">6</text>
<text x="625.80" y="116.60" font-size="8.5" text-anchor="middle" fill="#e8f5e8" font-weight="normal" font-style="normal"  stroke="#e8f5e8" stroke-width="0.2">6</text>
<text x="636.80" y="116.60" font-size="8.5" text-anchor="middle" fill="#fff" font-weight="normal" font-style="normal"  stroke="#fff" stroke-width="0.2">2</text>
<text x="647.70" y="116.60" font-size="8.5" text-anchor="middle" fill="#e8e8f8" font-weight="normal" font-style="normal"  stroke="#e8e8f8" stroke-width="0.2">2</text>
<text x="548.00" y="124.10" font-size="8.4" text-anchor="end" fill="#1a1a1a" font-weight="normal" font-style="normal"  stroke="#1a1a1a" stroke-width="0.2">0</text>
<text x="548.00" y="102.50" font-size="8.4" text-anchor="end" fill="#1a1a1a" font-weight="normal" font-style="normal"  stroke="#1a1a1a" stroke-width="0.2">2</text>
<text x="548.00" y="80.90" font-size="8.4" text-anchor="end" fill="#1a1a1a" font-weight="normal" font-style="normal"  stroke="#1a1a1a" stroke-width="0.2">4</text>
<text x="548.00" y="59.30" font-size="8.4" text-anchor="end" fill="#1a1a1a" font-weight="normal" font-style="normal"  stroke="#1a1a1a" stroke-width="0.2">6</text>
<text x="548.00" y="37.70" font-size="8.4" text-anchor="end" fill="#1a1a1a" font-weight="normal" font-style="normal"  stroke="#1a1a1a" stroke-width="0.2">8</text>
<text x="548.00" y="16.10" font-size="8.4" text-anchor="end" fill="#1a1a1a" font-weight="normal" font-style="normal"  stroke="#1a1a1a" stroke-width="0.2">10</text>
<text x="560.60" y="13.10" font-size="8.2" fill="#1a1a1a" stroke="#1a1a1a" stroke-width="0.2"><tspan font-style="italic">P</tspan> = 0.22</text>
<text x="570.30" y="63.00" font-size="8.5" text-anchor="middle" fill="#1a1a1a" font-weight="normal" font-style="normal"  stroke="#1a1a1a" stroke-width="0.2">*</text>
<text x="575.00" y="63.00" font-size="8.5" text-anchor="middle" fill="#1a1a1a" font-weight="normal" font-style="normal"  stroke="#1a1a1a" stroke-width="0.2">*</text>
<text x="579.70" y="63.00" font-size="8.5" text-anchor="middle" fill="#1a1a1a" font-weight="normal" font-style="normal"  stroke="#1a1a1a" stroke-width="0.2">*</text>
<text x="596.50" y="67.00" font-size="8.5" text-anchor="middle" fill="#1a1a1a" font-weight="normal" font-style="normal"  stroke="#1a1a1a" stroke-width="0.2">*</text>
<text x="625.10" y="52.20" font-size="8.5" text-anchor="middle" fill="#1a1a1a" font-weight="normal" font-style="normal"  stroke="#1a1a1a" stroke-width="0.2">*</text>
<text x="579.70" y="135.00" font-size="8.5" text-anchor="middle" fill="#1a1a1a" font-weight="normal" font-style="normal"  stroke="#1a1a1a" stroke-width="0.2">6</text>
<text x="630.60" y="135.00" font-size="8.5" text-anchor="middle" fill="#1a1a1a" font-weight="normal" font-style="normal"  stroke="#1a1a1a" stroke-width="0.2">20</text>
<text x="606.10" y="147.40" font-size="8.5" text-anchor="middle" fill="#1a1a1a" font-weight="normal" font-style="normal"  stroke="#1a1a1a" stroke-width="0.2">Time after venom injection (h)</text>
<text x="534.6" y="164.6" font-size="8.5" fill="#1a1a1a" stroke="#1a1a1a" stroke-width="0.2"><tspan font-style="italic">Gfi1</tspan><tspan font-style="italic" font-size="5.9" dy="-3">KI/+</tspan><tspan dy="3" font-size="8.2"> vehicle</tspan></text>
<text x="534.6" y="176.6" font-size="8.5" fill="#1a1a1a" stroke="#1a1a1a" stroke-width="0.2"><tspan font-style="italic">Gfi1</tspan><tspan font-style="italic" font-size="5.9" dy="-3">KI/KI</tspan><tspan dy="3" font-size="8.2"> vehicle</tspan></text>
<text x="612.8" y="164.6" font-size="8.5" fill="#1a1a1a" stroke="#1a1a1a" stroke-width="0.2"><tspan font-style="italic">Gfi1</tspan><tspan font-style="italic" font-size="5.9" dy="-3">KI/+</tspan><tspan dy="3" font-size="8.2"> DNAse I</tspan></text>
<text x="612.8" y="176.6" font-size="8.5" fill="#1a1a1a" stroke="#1a1a1a" stroke-width="0.2"><tspan font-style="italic">Gfi1</tspan><tspan font-style="italic" font-size="5.9" dy="-3">KI/KI</tspan><tspan dy="3" font-size="8.2"> DNAse I</tspan></text>
<text x="-0.60" y="205.40" font-size="14" text-anchor="start" fill="#000" font-weight="bold" font-style="normal"  stroke="#000" stroke-width="0.2">e</text>
<text x="0" y="0" font-size="8.7" text-anchor="middle" fill="#1a1a1a" transform="translate(5.90,259.50) rotate(-90)" stroke="#1a1a1a" stroke-width="0.2">Survival (%)</text>
<text x="27.20" y="316.50" font-size="8.6" text-anchor="end" fill="#1a1a1a" font-weight="normal" font-style="normal"  stroke="#1a1a1a" stroke-width="0.2">0</text>
<text x="27.20" y="294.80" font-size="8.6" text-anchor="end" fill="#1a1a1a" font-weight="normal" font-style="normal"  stroke="#1a1a1a" stroke-width="0.2">20</text>
<text x="27.20" y="273.10" font-size="8.6" text-anchor="end" fill="#1a1a1a" font-weight="normal" font-style="normal"  stroke="#1a1a1a" stroke-width="0.2">40</text>
<text x="27.20" y="251.40" font-size="8.6" text-anchor="end" fill="#1a1a1a" font-weight="normal" font-style="normal"  stroke="#1a1a1a" stroke-width="0.2">60</text>
<text x="27.20" y="229.70" font-size="8.6" text-anchor="end" fill="#1a1a1a" font-weight="normal" font-style="normal"  stroke="#1a1a1a" stroke-width="0.2">80</text>
<text x="27.20" y="208.00" font-size="8.6" text-anchor="end" fill="#1a1a1a" font-weight="normal" font-style="normal"  stroke="#1a1a1a" stroke-width="0.2">100</text>
<text x="33.40" y="326.60" font-size="8.6" text-anchor="middle" fill="#1a1a1a" font-weight="normal" font-style="normal"  stroke="#1a1a1a" stroke-width="0.2">0</text>
<text x="62.15" y="326.60" font-size="8.6" text-anchor="middle" fill="#1a1a1a" font-weight="normal" font-style="normal"  stroke="#1a1a1a" stroke-width="0.2">12</text>
<text x="90.90" y="326.60" font-size="8.6" text-anchor="middle" fill="#1a1a1a" font-weight="normal" font-style="normal"  stroke="#1a1a1a" stroke-width="0.2">24</text>
<text x="119.65" y="326.60" font-size="8.6" text-anchor="middle" fill="#1a1a1a" font-weight="normal" font-style="normal"  stroke="#1a1a1a" stroke-width="0.2">36</text>
<text x="148.40" y="326.60" font-size="8.6" text-anchor="middle" fill="#1a1a1a" font-weight="normal" font-style="normal"  stroke="#1a1a1a" stroke-width="0.2">48</text>
<text x="91.40" y="340.10" font-size="8.5" text-anchor="middle" fill="#1a1a1a" font-weight="normal" font-style="normal"  stroke="#1a1a1a" stroke-width="0.2">Time after venom injection (h)</text>
<text x="42.40" y="355.00" font-size="8.5" text-anchor="start" fill="#1a1a1a" font-weight="normal" font-style="normal"  stroke="#1a1a1a" stroke-width="0.2">Vehicle</text>
<text x="42.40" y="366.20" font-size="8.5" text-anchor="start" fill="#1a1a1a" font-weight="normal" font-style="normal"  stroke="#1a1a1a" stroke-width="0.2">Cyclophosphamide</text>
<text x="125.80" y="361.00" font-size="8.2" fill="#1a1a1a" stroke="#1a1a1a" stroke-width="0.2"><tspan font-style="italic">P</tspan> = 0.24</text>
<text x="173.40" y="205.30" font-size="14" text-anchor="start" fill="#000" font-weight="bold" font-style="normal"  stroke="#000" stroke-width="0.2">f</text>
<text x="0" y="0" font-size="8.7" text-anchor="middle" fill="#1a1a1a" transform="translate(178.40,259.00) rotate(-90)" stroke="#1a1a1a" stroke-width="0.2">Survival (%)</text>
<text x="199.10" y="316.50" font-size="8.6" text-anchor="end" fill="#1a1a1a" font-weight="normal" font-style="normal"  stroke="#1a1a1a" stroke-width="0.2">0</text>
<text x="199.10" y="294.72" font-size="8.6" text-anchor="end" fill="#1a1a1a" font-weight="normal" font-style="normal"  stroke="#1a1a1a" stroke-width="0.2">20</text>
<text x="199.10" y="272.94" font-size="8.6" text-anchor="end" fill="#1a1a1a" font-weight="normal" font-style="normal"  stroke="#1a1a1a" stroke-width="0.2">40</text>
<text x="199.10" y="251.16" font-size="8.6" text-anchor="end" fill="#1a1a1a" font-weight="normal" font-style="normal"  stroke="#1a1a1a" stroke-width="0.2">60</text>
<text x="199.10" y="229.38" font-size="8.6" text-anchor="end" fill="#1a1a1a" font-weight="normal" font-style="normal"  stroke="#1a1a1a" stroke-width="0.2">80</text>
<text x="199.10" y="207.60" font-size="8.6" text-anchor="end" fill="#1a1a1a" font-weight="normal" font-style="normal"  stroke="#1a1a1a" stroke-width="0.2">100</text>
<text x="205.70" y="326.60" font-size="8.6" text-anchor="middle" fill="#1a1a1a" font-weight="normal" font-style="normal"  stroke="#1a1a1a" stroke-width="0.2">0</text>
<text x="234.47" y="326.60" font-size="8.6" text-anchor="middle" fill="#1a1a1a" font-weight="normal" font-style="normal"  stroke="#1a1a1a" stroke-width="0.2">12</text>
<text x="263.25" y="326.60" font-size="8.6" text-anchor="middle" fill="#1a1a1a" font-weight="normal" font-style="normal"  stroke="#1a1a1a" stroke-width="0.2">24</text>
<text x="292.02" y="326.60" font-size="8.6" text-anchor="middle" fill="#1a1a1a" font-weight="normal" font-style="normal"  stroke="#1a1a1a" stroke-width="0.2">36</text>
<text x="320.80" y="326.60" font-size="8.6" text-anchor="middle" fill="#1a1a1a" font-weight="normal" font-style="normal"  stroke="#1a1a1a" stroke-width="0.2">48</text>
<text x="263.75" y="340.00" font-size="8.5" text-anchor="middle" fill="#1a1a1a" font-weight="normal" font-style="normal"  stroke="#1a1a1a" stroke-width="0.2">Time after venom injection (h)</text>
<text x="239.60" y="354.90" font-size="8.5" text-anchor="start" fill="#1a1a1a" font-weight="normal" font-style="normal"  stroke="#1a1a1a" stroke-width="0.2">Isotype</text>
<text x="239.60" y="365.60" font-size="8.5" text-anchor="start" fill="#1a1a1a" font-weight="normal" font-style="normal"  stroke="#1a1a1a" stroke-width="0.2">&#945;-Ly6G</text>
<text x="277.70" y="360.90" font-size="8.2" fill="#1a1a1a" stroke="#1a1a1a" stroke-width="0.2"><tspan font-style="italic">P</tspan> = 0.33</text>
<text x="340.60" y="204.80" font-size="14" text-anchor="start" fill="#000" font-weight="bold" font-style="normal"  stroke="#000" stroke-width="0.2">g</text>
<text x="0" y="0" font-size="8.7" text-anchor="middle" fill="#1a1a1a" transform="translate(346.30,260.00) rotate(-90)" stroke="#1a1a1a" stroke-width="0.2">Survival (%)</text>
<text x="367.20" y="317.20" font-size="8.6" text-anchor="end" fill="#1a1a1a" font-weight="normal" font-style="normal"  stroke="#1a1a1a" stroke-width="0.2">0</text>
<text x="367.20" y="295.48" font-size="8.6" text-anchor="end" fill="#1a1a1a" font-weight="normal" font-style="normal"  stroke="#1a1a1a" stroke-width="0.2">20</text>
<text x="367.20" y="273.76" font-size="8.6" text-anchor="end" fill="#1a1a1a" font-weight="normal" font-style="normal"  stroke="#1a1a1a" stroke-width="0.2">40</text>
<text x="367.20" y="252.04" font-size="8.6" text-anchor="end" fill="#1a1a1a" font-weight="normal" font-style="normal"  stroke="#1a1a1a" stroke-width="0.2">60</text>
<text x="367.20" y="230.32" font-size="8.6" text-anchor="end" fill="#1a1a1a" font-weight="normal" font-style="normal"  stroke="#1a1a1a" stroke-width="0.2">80</text>
<text x="367.20" y="208.60" font-size="8.6" text-anchor="end" fill="#1a1a1a" font-weight="normal" font-style="normal"  stroke="#1a1a1a" stroke-width="0.2">100</text>
<text x="374.00" y="327.20" font-size="8.6" text-anchor="middle" fill="#1a1a1a" font-weight="normal" font-style="normal"  stroke="#1a1a1a" stroke-width="0.2">0</text>
<text x="402.65" y="327.20" font-size="8.6" text-anchor="middle" fill="#1a1a1a" font-weight="normal" font-style="normal"  stroke="#1a1a1a" stroke-width="0.2">12</text>
<text x="431.30" y="327.20" font-size="8.6" text-anchor="middle" fill="#1a1a1a" font-weight="normal" font-style="normal"  stroke="#1a1a1a" stroke-width="0.2">24</text>
<text x="459.95" y="327.20" font-size="8.6" text-anchor="middle" fill="#1a1a1a" font-weight="normal" font-style="normal"  stroke="#1a1a1a" stroke-width="0.2">36</text>
<text x="488.60" y="327.20" font-size="8.6" text-anchor="middle" fill="#1a1a1a" font-weight="normal" font-style="normal"  stroke="#1a1a1a" stroke-width="0.2">48</text>
<text x="431.80" y="340.70" font-size="8.5" text-anchor="middle" fill="#1a1a1a" font-weight="normal" font-style="normal"  stroke="#1a1a1a" stroke-width="0.2">Time after venom injection (h)</text>
<text x="408.8" y="354.5" font-size="8.6" fill="#1a1a1a" font-style="italic" stroke="#1a1a1a" stroke-width="0.2">PMN<tspan font-size="5.8" dy="-2.8">WT</tspan></text>
<text x="408.8" y="366.6" font-size="8.6" fill="#1a1a1a" font-style="italic" stroke="#1a1a1a" stroke-width="0.2">PMN<tspan font-size="5.8" dy="-2.8">DTR</tspan></text>
<text x="450.80" y="360.90" font-size="8.2" fill="#1a1a1a" stroke="#1a1a1a" stroke-width="0.2"><tspan font-style="italic">P</tspan> = 0.11</text>
<text x="519.60" y="205.30" font-size="14" text-anchor="start" fill="#000" font-weight="bold" font-style="normal"  stroke="#000" stroke-width="0.2">h</text>
<text x="0" y="0" font-size="8.7" text-anchor="middle" fill="#1a1a1a" transform="translate(524.90,259.00) rotate(-90)" stroke="#1a1a1a" stroke-width="0.2">Survival (%)</text>
<text x="544.80" y="316.50" font-size="8.6" text-anchor="end" fill="#1a1a1a" font-weight="normal" font-style="normal"  stroke="#1a1a1a" stroke-width="0.2">0</text>
<text x="544.80" y="294.80" font-size="8.6" text-anchor="end" fill="#1a1a1a" font-weight="normal" font-style="normal"  stroke="#1a1a1a" stroke-width="0.2">20</text>
<text x="544.80" y="273.10" font-size="8.6" text-anchor="end" fill="#1a1a1a" font-weight="normal" font-style="normal"  stroke="#1a1a1a" stroke-width="0.2">40</text>
<text x="544.80" y="251.40" font-size="8.6" text-anchor="end" fill="#1a1a1a" font-weight="normal" font-style="normal"  stroke="#1a1a1a" stroke-width="0.2">60</text>
<text x="544.80" y="229.70" font-size="8.6" text-anchor="end" fill="#1a1a1a" font-weight="normal" font-style="normal"  stroke="#1a1a1a" stroke-width="0.2">80</text>
<text x="544.80" y="208.00" font-size="8.6" text-anchor="end" fill="#1a1a1a" font-weight="normal" font-style="normal"  stroke="#1a1a1a" stroke-width="0.2">100</text>
<text x="551.20" y="326.60" font-size="8.6" text-anchor="middle" fill="#1a1a1a" font-weight="normal" font-style="normal"  stroke="#1a1a1a" stroke-width="0.2">0</text>
<text x="580.03" y="326.60" font-size="8.6" text-anchor="middle" fill="#1a1a1a" font-weight="normal" font-style="normal"  stroke="#1a1a1a" stroke-width="0.2">12</text>
<text x="608.85" y="326.60" font-size="8.6" text-anchor="middle" fill="#1a1a1a" font-weight="normal" font-style="normal"  stroke="#1a1a1a" stroke-width="0.2">24</text>
<text x="637.67" y="326.60" font-size="8.6" text-anchor="middle" fill="#1a1a1a" font-weight="normal" font-style="normal"  stroke="#1a1a1a" stroke-width="0.2">36</text>
<text x="666.50" y="326.60" font-size="8.6" text-anchor="middle" fill="#1a1a1a" font-weight="normal" font-style="normal"  stroke="#1a1a1a" stroke-width="0.2">48</text>
<text x="609.35" y="338.60" font-size="8.5" text-anchor="middle" fill="#1a1a1a" font-weight="normal" font-style="normal"  stroke="#1a1a1a" stroke-width="0.2">Time after venom injection (h)</text>
<text x="545.8" y="354.50" font-size="8.6" fill="#1a1a1a" stroke="#1a1a1a" stroke-width="0.2"><tspan font-style="italic">Gfi1</tspan><tspan font-style="italic" font-size="6.2" dy="-3">KI/+</tspan><tspan dy="3"> vehicle</tspan></text>
<text x="545.8" y="368.40" font-size="8.6" fill="#1a1a1a" stroke="#1a1a1a" stroke-width="0.2"><tspan font-style="italic">Gfi1</tspan><tspan font-style="italic" font-size="6.2" dy="-3">KI/+</tspan><tspan dy="3"> DNAse I</tspan></text>
<text x="545.8" y="381.50" font-size="8.6" fill="#1a1a1a" stroke="#1a1a1a" stroke-width="0.2"><tspan font-style="italic">Gfi1</tspan><tspan font-style="italic" font-size="6.2" dy="-3">KI/KI</tspan><tspan dy="3"> vehicle</tspan></text>
<text x="545.8" y="394.60" font-size="8.6" fill="#1a1a1a" stroke="#1a1a1a" stroke-width="0.2"><tspan font-style="italic">Gfi1</tspan><tspan font-style="italic" font-size="6.2" dy="-3">KI/KI</tspan><tspan dy="3"> DNAse I</tspan></text>
<text x="616.40" y="362.40" font-size="8.2" fill="#1a1a1a" stroke="#1a1a1a" stroke-width="0.2"><tspan font-style="italic">P</tspan> = 0.88</text>
<text x="616.40" y="388.00" font-size="8.2" fill="#1a1a1a" stroke="#1a1a1a" stroke-width="0.2"><tspan font-style="italic">P</tspan> = 0.21</text>
<text x="654.00" y="363.00" font-size="8.2" fill="#1a1a1a" stroke="#1a1a1a" stroke-width="0.2"><tspan font-style="italic">P</tspan> = 0.20</text>
<text x="664.60" y="383.80" font-size="8.5" text-anchor="middle" fill="#1a1a1a" font-weight="normal" font-style="normal"  stroke="#1a1a1a" stroke-width="0.2">*</text>
</g></svg></body></html>
